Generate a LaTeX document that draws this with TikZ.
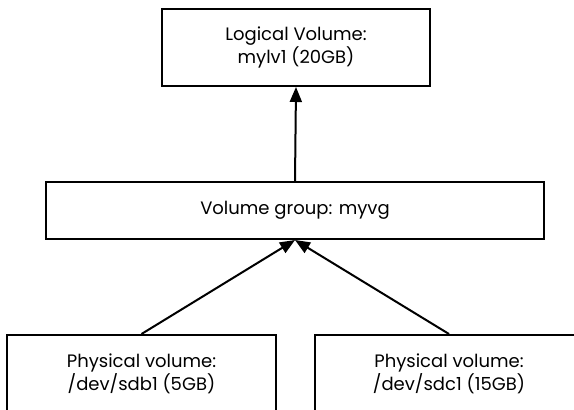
\documentclass[tikz,border=0pt]{standalone}
\usepackage{fontspec}
\setmainfont{Poppins}
\usetikzlibrary{arrows.meta}
\begin{document}
\begin{tikzpicture}[x=1pt,y=-1pt,
  box/.style={draw=black, line width=2pt, align=center, inner sep=0pt,
    font=\fontsize{18}{23}\selectfont},
  link/.style={line width=2pt, -{Triangle[length=15pt,width=12pt]}}]
  \clip (0,0) rectangle (574,410);
  \node[box, minimum width=268pt, minimum height=77pt] (lv) at (296,47.5)
    {Logical Volume:\\mylv1 (20GB)};
  \node[box, minimum width=498pt, minimum height=57pt] (vg) at (295,210.5)
    {Volume group: myvg};
  \node[box, minimum width=269pt, minimum height=77pt] (pv1) at (141.5,373.5)
    {Physical volume:\\/dev/sdb1 (5GB)};
  \node[box, minimum width=268pt, minimum height=77pt] (pv2) at (449,373.5)
    {Physical volume:\\/dev/sdc1 (15GB)};
  \draw[link] (vg.north) -- (lv.south);
  \draw[link] (pv1.north) -- (vg.south);
  \draw[link] (pv2.north) -- (vg.south);
\end{tikzpicture}
\end{document}
